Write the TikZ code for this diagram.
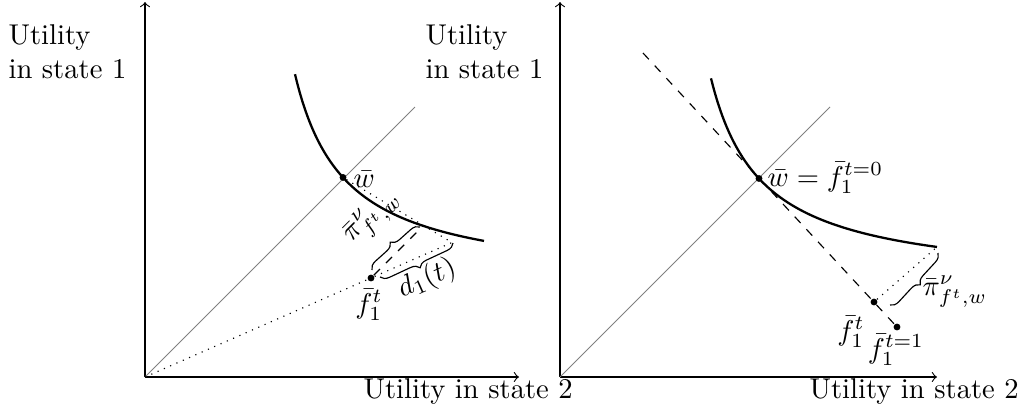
\documentclass[tikz,border=0pt]{standalone}
\usetikzlibrary{decorations.pathreplacing,calc}
\begin{document}
\begin{tikzpicture}[x=0.01229cm,y=0.01229cm,
  axis/.style={->},
  diag/.style={gray,line width=0.3pt},
  indiff/.style={thick},
  dotpt/.style={circle,fill,inner sep=0pt,minimum size=2.4pt},
  brc/.style={decorate,decoration={brace,amplitude=3pt}},
  lbl/.style={inner sep=0pt}]
\useasboundingbox (0,0) rectangle (1024,414);
% axis labels
\node[lbl,anchor=north west,align=left] (yl1) at (8,390) {Utility\\in state 1};
\node[lbl,anchor=north west,align=left] (yl2) at (425,390) {Utility\\in state 1};
\node[lbl,anchor=base west] (xl1) at (363,16) {Utility in state 2};
\node[lbl,anchor=base west] (xl2) at (809,16) {Utility in state 2};
% ---------- left panel ----------
\begin{scope}[shift={(145,37)}]
  \coordinate (O1) at (0,0);
  \coordinate (Y1) at (0,375);
  \coordinate (X1) at (374,0);
  \coordinate (D1) at (270,270);
  \draw[axis] (O1) -- (Y1);
  \draw[axis] (O1) -- (X1);
  \draw[diag] (O1) -- (D1);
  \draw[indiff] plot[domain=150:339,samples=80,smooth] (\x,{92+10540/(\x-100)});
  \node[dotpt] (w1) at (198,199.55) {};
  \node[lbl,anchor=base west] (w1l) at (208,190) {$\bar w$};
  \node[dotpt] (f1) at (226,99) {};
  \node[lbl] (f1l) at (224,72) {$\bar f_1^t$};
  \coordinate (P1) at (307,134.5);
  \coordinate (C1) at (278.2,151.2);
  \draw[dotted] (O1) -- (f1) -- (P1);
  \draw[dotted] (w1) -- (P1);
  \draw[dashed] (f1) -- (C1);
  \coordinate (B1a) at (227,107);
  \coordinate (B1b) at (275,150);
  \draw[brc] (B1a) -- (B1b);
  \node[lbl,rotate=45] (pi1) at (227,160) {$\bar\pi^\nu_{f^t,w}$};
  \coordinate (B2a) at (308,134);
  \coordinate (B2b) at (235,100);
  \draw[brc] (B2a) -- (B2b);
  \node[lbl,rotate=24] (d1) at (282,98) {$d_1(t)$};
\end{scope}
% ---------- right panel ----------
\begin{scope}[shift={(560,37)}]
  \coordinate (O2) at (0,0);
  \coordinate (Y2) at (0,375);
  \coordinate (X2) at (377,0);
  \coordinate (D2) at (270,270);
  \draw[axis] (O2) -- (Y2);
  \draw[axis] (O2) -- (X2);
  \draw[diag] (O2) -- (D2);
  \draw[indiff] plot[domain=151:377,samples=80,smooth] (\x,{92+10540/(\x-100)});
  \node[dotpt] (w2) at (199,198.5) {};
  \node[lbl,anchor=base west] (w2l) at (207,191) {$\bar w=\bar f_1^{t=0}$};
  \coordinate (S2) at (83,324);
  \node[dotpt] (F2) at (337,50) {};
  \node[dotpt] (f2) at (314,75) {};
  \coordinate (E2) at (377,130.05);
  \draw[dashed] (S2) -- (F2);
  \draw[dotted] (f2) -- (E2);
  \coordinate (B3a) at (378,124);
  \coordinate (B3b) at (330,72);
  \draw[brc] (B3a) -- (B3b);
  \node[lbl,anchor=base west] (pi2) at (362,82) {$\bar\pi^\nu_{f^t,w}$};
  \node[lbl] (f2l) at (291,45) {$\bar f_1^t$};
  \node[lbl] (F2l) at (336,27) {$\bar f_1^{t=1}$};
\end{scope}
\end{tikzpicture}
\end{document}
